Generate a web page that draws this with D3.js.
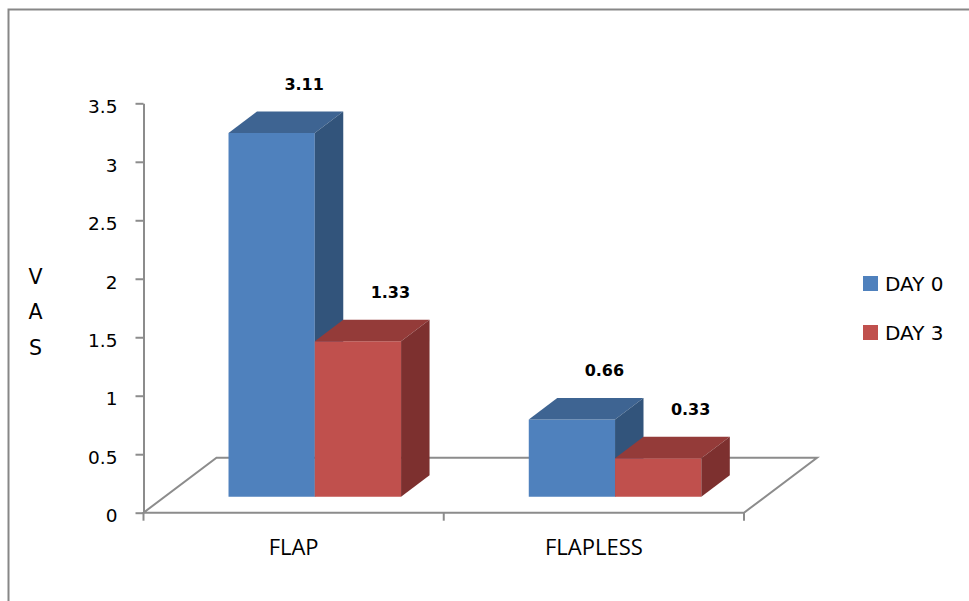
<!DOCTYPE html>
<html>
<head>
<meta charset="utf-8">
<script src="https://cdn.jsdelivr.net/npm/d3@7"></script>
<style>
  body { margin: 0; background: #fff; }
  svg { display: block; }
  text { font-family: "DejaVu Sans", "Open Sans", sans-serif; fill: #000; }
  .cat { font-family: "Open Sans", "Noto Sans", sans-serif; }
</style>
</head>
<body>
<svg id="chart" width="969" height="601"></svg>
<script>
// Mean VAS scores per group
const categories = ["FLAP", "FLAPLESS"];
const seriesNames = ["DAY 0", "DAY 3"];
const day0 = [3.11, 0.66];
const day3 = [1.33, 0.33];
const yTicks = [0, 0.5, 1, 1.5, 2, 2.5, 3, 3.5];
const yTickLabels = ["0", "0.5", "1", "1.5", "2", "2.5", "3", "3.5"];
const axisTitle = ["V", "A", "S"];

const seriesValues = [day0, day3];
const palette = [
  { front: "#4F81BD", top: "#3E6492", side: "#32547B" },
  { front: "#C0504D", top: "#943B39", side: "#7D302F" }
];
const gridGray = "#8C8C8C";

const svg = d3.select("#chart");

// Frame around the chart area
svg.append("rect")
  .attr("x", 8.5).attr("y", 9.5)
  .attr("width", 1000).attr("height", 700)
  .attr("fill", "none").attr("stroke", "#878787").attr("stroke-width", 2);

// Plot geometry: front floor edge plus an oblique depth vector
const plotLeft = 143.5, plotRight = 744, plotBottom = 512.7, plotTop = 103.3;
const depthVec = { dx: 73, dy: -55 };
const barFront = 0.29, barBack = 0.68;

const x = d3.scaleBand().domain(categories).range([plotLeft, plotRight]).padding(0);
const xs = d3.scaleBand().domain(seriesNames).range([0, x.bandwidth()])
  .paddingInner(0).paddingOuter(0.74);
const y = d3.scaleLinear().domain([0, 3.5]).range([plotBottom, plotTop]);

// Project (horizontal position, value, depth fraction) to screen
const P = (px, v, d) => [px + d * depthVec.dx, y(v) + d * depthVec.dy];
const poly = pts => "M" + pts.map(p => p.join(",")).join("L") + "Z";

// Floor
svg.append("path")
  .attr("d", poly([P(plotLeft, 0, 0), P(plotRight, 0, 0), P(plotRight, 0, 1), P(plotLeft, 0, 1)]))
  .attr("fill", "#fff").attr("stroke", gridGray).attr("stroke-width", 2)
  .attr("stroke-linejoin", "miter");

// Value axis
const yAxis = d3.axisLeft(y)
  .tickValues(yTicks)
  .tickFormat((d, i) => yTickLabels[i])
  .tickSize(8).tickSizeOuter(0).tickPadding(18);
const yg = svg.append("g").attr("transform", `translate(${plotLeft},0)`).call(yAxis);
yg.select(".domain").attr("stroke", gridGray).attr("stroke-width", 2);
yg.selectAll(".tick line").attr("stroke", gridGray).attr("stroke-width", 2);
yg.selectAll(".tick text")
  .attr("font-size", 18.5).attr("dy", "0.5em")
  .attr("font-family", null).attr("fill", "#000");

// Category boundary ticks below the front edge
const bounds = categories.map(c => x(c)).concat([plotRight]);
svg.append("g").selectAll("line").data(bounds).join("line")
  .attr("x1", d => d).attr("x2", d => d)
  .attr("y1", plotBottom).attr("y2", plotBottom + 8)
  .attr("stroke", gridGray).attr("stroke-width", 2);

// Category labels
svg.append("g").selectAll("text").data(categories).join("text")
  .attr("class", "cat")
  .attr("x", d => x(d) + x.bandwidth() / 2)
  .attr("y", 555)
  .attr("text-anchor", "middle")
  .attr("font-size", 22)
  .text(d => d);

// 3D bars, drawn left to right so nearer faces overlap correctly
const bars = [];
categories.forEach((c, i) => {
  seriesNames.forEach((s, j) => {
    bars.push({ cat: c, series: s, j, value: seriesValues[j][i] });
  });
});

const barG = svg.append("g");
bars.forEach(b => {
  const xl = x(b.cat) + xs(b.series);
  const xr = xl + xs.bandwidth();
  const v = b.value;
  const col = palette[b.j];
  const g = barG.append("g");
  g.append("path")
    .attr("d", poly([P(xl, 0, barFront), P(xr, 0, barFront), P(xr, v, barFront), P(xl, v, barFront)]))
    .attr("fill", col.front);
  g.append("path")
    .attr("d", poly([P(xl, v, barFront), P(xr, v, barFront), P(xr, v, barBack), P(xl, v, barBack)]))
    .attr("fill", col.top);
  g.append("path")
    .attr("d", poly([P(xr, 0, barFront), P(xr, 0, barBack), P(xr, v, barBack), P(xr, v, barFront)]))
    .attr("fill", col.side);
});

// Value labels above each bar
svg.append("g").selectAll("text").data(bars).join("text")
  .attr("x", d => {
    const xl = x(d.cat) + xs(d.series);
    return P(xl + xs.bandwidth() / 2, d.value, barBack)[0] + 4;
  })
  .attr("y", d => P(0, d.value, barBack)[1] - 22)
  .attr("text-anchor", "middle")
  .attr("font-size", 16)
  .attr("font-weight", "bold")
  .text(d => d3.format(".2f")(d.value));

// Axis title, one letter per line
svg.append("g").selectAll("text").data(axisTitle).join("text")
  .attr("x", 35.5)
  .attr("y", (d, i) => 283.5 + i * 35.5)
  .attr("text-anchor", "middle")
  .attr("font-size", 20.5)
  .text(d => d);

// Legend
const legend = svg.append("g").selectAll("g").data(seriesNames).join("g")
  .attr("transform", (d, i) => `translate(863,${276 + i * 49})`);
legend.append("rect")
  .attr("width", 15).attr("height", 15)
  .attr("fill", (d, i) => palette[i].front);
legend.append("text")
  .attr("x", 22).attr("y", 15)
  .attr("font-size", 20)
  .text(d => d);
</script>
</body>
</html>
